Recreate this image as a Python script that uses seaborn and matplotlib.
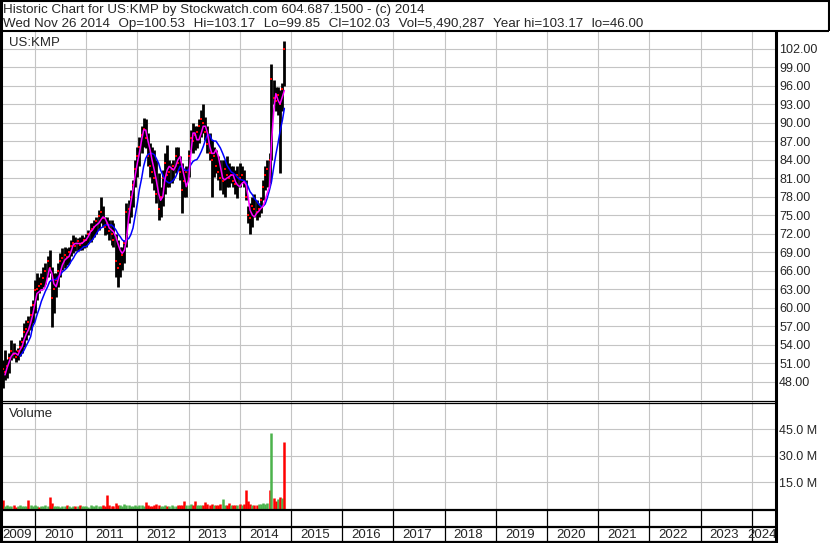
import numpy as np
import pandas as pd
import seaborn as sns
import matplotlib
matplotlib.use("Agg")
import matplotlib.pyplot as plt
import matplotlib.dates as mdates
from matplotlib.lines import Line2D

# semi-monthly bars (May 2009 - Nov 2014)
dates = pd.date_range("2009-05-01", periods=134, freq="SMS")

high = [48.3, 51.5, 53.1, 51.7, 52.6, 54.8, 54.2, 53.1, 53.4, 54.8,
        55.3, 57.5, 58.0, 58.6, 60.2, 61.2, 64.5, 65.6, 65.0, 65.6,
        66.6, 67.2, 68.3, 69.3, 66.6, 65.6, 65.6, 67.2, 68.8, 69.6,
        69.9, 69.6, 69.9, 71.0, 71.8, 71.5, 71.3, 71.5, 71.8, 71.5,
        72.0, 72.6, 73.7, 73.7, 74.2, 74.7, 75.8, 78.0, 76.4, 74.7,
        74.7, 74.2, 74.2, 73.7, 72.0, 71.0, 69.9, 69.9, 71.0, 76.9,
        77.4, 79.1, 80.7, 83.9, 86.1, 87.7, 89.4, 90.7, 90.5, 88.3,
        86.7, 86.1, 85.6, 83.9, 81.8, 79.6, 82.3, 85.0, 86.4, 83.9,
        83.4, 83.9, 86.1, 86.1, 84.5, 83.4, 82.3, 82.9, 85.6, 88.8,
        89.9, 89.4, 89.4, 90.5, 92.1, 93.0, 90.9, 89.4, 88.3, 87.2,
        86.1, 85.6, 84.5, 83.9, 83.9, 83.9, 84.5, 83.4, 82.9, 82.9,
        82.3, 82.9, 83.4, 82.9, 82.3, 80.7, 76.4, 76.9, 78.0, 78.5,
        77.4, 76.9, 78.0, 80.7, 82.9, 83.9, 85.0, 99.5, 96.9, 95.8,
        95.8, 95.2, 96.4, 103.2]

low = [46.1, 47.0, 48.3, 48.6, 49.4, 51.5, 51.8, 51.2, 51.5, 52.1,
       52.6, 53.7, 54.8, 55.6, 56.4, 57.5, 59.1, 61.2, 62.3, 62.9,
       63.4, 63.9, 65.0, 65.6, 56.9, 59.1, 61.8, 63.4, 65.0, 66.1,
       66.4, 66.9, 67.2, 68.3, 68.8, 69.1, 69.1, 69.3, 69.3, 69.6,
       69.9, 70.4, 70.7, 71.2, 71.5, 72.0, 72.6, 73.7, 73.1, 71.8,
       72.0, 71.0, 70.2, 69.9, 65.0, 63.4, 65.0, 66.1, 67.2, 69.9,
       73.7, 74.7, 76.3, 79.6, 81.2, 82.9, 85.0, 86.1, 85.8, 82.9,
       81.2, 80.2, 79.1, 76.9, 74.2, 74.7, 76.4, 78.5, 79.6, 79.6,
       80.2, 80.7, 81.8, 82.3, 80.7, 75.3, 77.9, 77.9, 81.2, 85.5,
       85.0, 85.6, 85.8, 86.7, 87.7, 88.3, 87.2, 85.0, 83.9, 78.0,
       81.2, 81.8, 80.7, 79.1, 78.5, 78.0, 79.6, 79.6, 80.2, 79.6,
       78.5, 77.7, 79.6, 80.4, 79.6, 77.4, 73.7, 72.0, 73.1, 74.7,
       74.2, 74.7, 75.3, 77.4, 79.1, 79.6, 80.2, 84.0, 93.0, 91.9,
       91.3, 81.8, 91.9, 96.0]

close = [47.5, 50.0, 49.5, 50.5, 51.8, 53.0, 52.5, 52.0, 53.0, 53.6,
         54.5, 56.0, 56.5, 57.6, 58.8, 60.4, 62.8, 63.0, 63.5, 63.8,
         64.8, 66.0, 67.5, 66.5, 61.5, 63.0, 64.5, 66.0, 67.5, 68.0,
         68.5, 68.2, 69.0, 70.0, 70.4, 70.0, 70.8, 70.2, 70.5, 70.9,
         71.0, 72.0, 72.5, 72.8, 73.0, 74.0, 74.8, 75.5, 74.5, 73.0,
         73.5, 72.5, 72.0, 71.0, 67.5, 66.5, 67.0, 68.5, 70.5, 75.5,
         76.0, 78.0, 79.8, 82.5, 84.5, 86.0, 88.0, 89.0, 87.5, 84.5,
         83.0, 82.0, 81.0, 78.5, 76.0, 78.0, 81.0, 83.5, 81.5, 82.0,
         82.5, 83.0, 84.5, 83.5, 82.0, 79.0, 80.5, 82.0, 84.5, 87.5,
         87.0, 88.0, 88.5, 89.5, 90.5, 90.0, 88.5, 86.5, 85.0, 84.0,
         84.5, 83.0, 82.0, 81.0, 80.5, 82.5, 81.5, 81.0, 81.5, 80.5,
         80.0, 81.5, 81.0, 81.5, 80.5, 78.0, 75.0, 74.5, 76.5, 76.0,
         75.5, 76.0, 77.5, 79.5, 81.5, 82.5, 84.0, 97.0, 94.0, 93.5,
         94.5, 93.0, 95.5, 102.0]

nan = np.nan
ma_fast = [nan, nan, 49.1, 50.2, 51.2, 52.1, 52.6, 52.6, 52.3, 53.1,
           53.7, 54.8, 55.8, 56.4, 57.5, 58.8, 60.7, 62.3, 62.6, 62.9,
           62.9, 63.4, 65.0, 66.4, 65.6, 63.9, 63.4, 64.5, 65.8, 66.9,
           67.7, 68.0, 68.3, 69.1, 70.2, 70.4, 70.4, 70.4, 70.4, 70.7,
           71.0, 71.5, 72.3, 72.6, 73.1, 73.4, 73.7, 74.2, 74.7, 74.5,
           73.7, 72.9, 72.6, 72.3, 71.5, 70.4, 69.3, 68.8, 69.3, 71.0,
           74.7, 76.9, 79.1, 81.2, 83.4, 85.0, 87.2, 88.8, 88.8, 87.2,
           85.6, 83.9, 82.3, 80.7, 78.5, 77.4, 78.0, 80.7, 82.3, 82.9,
           82.6, 82.3, 82.9, 83.9, 84.5, 82.9, 81.2, 79.6, 80.7, 84.5,
           88.3, 88.3, 87.2, 87.2, 88.3, 89.4, 89.4, 88.3, 86.1, 85.0,
           85.0, 85.6, 84.5, 82.9, 81.0, 80.7, 81.0, 81.2, 81.5, 81.5,
           80.4, 79.9, 79.6, 80.1, 80.4, 79.9, 78.0, 75.8, 75.0, 74.7,
           75.3, 75.6, 76.1, 76.4, 77.4, 78.5, 79.6, 86.7, 92.1, 94.7,
           93.6, 93.0, 94.2, 95.2]

ma_slow = [nan, nan, nan, nan, nan, nan, nan, nan, nan, 52.1,
           52.6, 53.1, 53.9, 54.5, 55.3, 56.9, 57.7, 58.8, 59.9, 61.0,
           61.8, 62.6, 63.4, 64.2, 64.5, 64.5, 64.6, 65.0, 65.3, 65.8,
           66.1, 66.4, 66.9, 67.5, 68.0, 68.6, 69.1, 69.3, 69.6, 69.9,
           69.9, 70.2, 70.7, 71.0, 71.5, 72.0, 72.6, 72.9, 73.1, 73.4,
           73.4, 73.4, 73.4, 73.1, 72.6, 72.0, 71.5, 71.0, 70.7, 71.0,
           71.2, 71.8, 72.9, 74.7, 76.9, 79.1, 81.0, 82.9, 84.2, 84.8,
           85.0, 85.0, 84.8, 84.2, 83.4, 82.3, 81.5, 80.7, 80.4, 80.2,
           80.4, 80.7, 81.2, 82.0, 82.9, 82.9, 82.4, 82.2, 82.3, 83.1,
           83.7, 83.9, 84.0, 84.5, 85.3, 86.1, 87.2, 88.0, 88.0, 87.2,
           87.0, 87.0, 86.4, 85.9, 85.0, 84.2, 83.1, 82.6, 82.0, 81.8,
           81.5, 81.1, 80.8, 80.7, 80.6, 80.3, 79.6, 78.8, 78.3, 77.7,
           77.3, 76.8, 76.4, 76.4, 76.8, 77.7, 79.1, 80.4, 82.9, 84.8,
           86.7, 88.5, 90.4, 92.3]

# volume in millions, and up(1)/down(0) colouring
volume = [2.0, 5.1, 1.7, 2.2, 1.5, 1.8, 2.3, 1.4, 1.7, 2.0,
          1.5, 1.8, 1.7, 5.1, 2.0, 1.5, 2.2, 1.7, 1.4, 1.8,
          1.7, 2.0, 1.5, 6.9, 3.4, 1.7, 1.5, 1.8, 1.4, 1.7,
          1.5, 2.0, 1.7, 1.4, 1.8, 1.5, 1.7, 2.0, 1.5, 1.7,
          1.8, 1.4, 2.2, 1.7, 1.5, 2.0, 1.7, 1.8, 2.3, 1.7,
          7.9, 2.0, 1.7, 1.8, 3.4, 2.5, 2.2, 1.7, 2.7, 2.0,
          2.3, 1.7, 1.8, 2.2, 1.7, 2.0, 2.5, 1.5, 4.1, 2.2,
          1.8, 1.7, 2.0, 2.7, 2.2, 1.7, 1.8, 2.3, 1.7, 1.5,
          2.0, 1.7, 1.8, 2.2, 2.5, 2.0, 4.5, 2.3, 2.0, 2.7,
          2.2, 4.5, 2.5, 2.0, 2.3, 2.2, 4.1, 2.7, 2.2, 3.0,
          2.3, 2.5, 2.0, 2.7, 5.6, 2.5, 2.2, 3.2, 2.3, 2.0,
          2.5, 2.2, 2.7, 2.3, 3.0, 10.7, 4.5, 2.7, 2.5, 2.3,
          2.5, 3.0, 2.7, 3.4, 2.8, 3.2, 10.7, 42.6, 6.0, 4.5,
          5.6, 6.5, 6.0, 37.9]

up = [0, 0, 1, 1, 1, 1, 0, 0, 1, 1,
      1, 1, 1, 0, 1, 1, 1, 1, 0, 1,
      1, 1, 1, 0, 0, 1, 1, 1, 1, 1,
      1, 0, 1, 1, 1, 0, 1, 0, 1, 1,
      1, 1, 1, 1, 1, 1, 1, 1, 0, 0,
      0, 0, 0, 0, 0, 0, 1, 1, 1, 1,
      1, 1, 1, 1, 1, 1, 1, 1, 0, 0,
      0, 0, 0, 0, 0, 1, 1, 1, 0, 1,
      1, 1, 1, 0, 0, 0, 0, 1, 1, 1,
      0, 0, 1, 1, 1, 0, 0, 0, 0, 0,
      1, 0, 0, 0, 1, 1, 0, 0, 1, 0,
      0, 1, 0, 1, 0, 0, 0, 0, 1, 0,
      0, 1, 1, 1, 1, 1, 0, 1, 0, 0,
      1, 0, 1, 0]

price_ticks = list(range(48, 103, 3))
vol_ticks = [15, 30, 45]
years = list(range(2009, 2025))

title1 = "Historic Chart for US:KMP by Stockwatch.com 604.687.1500 - (c) 2014"
gap = "  \u200a"
title2 = gap.join(["Wed Nov 26 2014", "Op=100.53", "Hi=103.17", "Lo=99.85",
                   "Cl=102.03", "Vol=5,490,287", "Year hi=103.17", "lo=46.00"])

# ---------------------------------------------------------------------------
W, H = 830, 543
sns.set_style("white")
plt.rcParams['font.family'] = ['Liberation Sans', 'DejaVu Sans']

fig = plt.figure(figsize=(W / 100, H / 100), dpi=100)


def box(x0, y0, x1, y1):
    # pixel box (top-left origin) -> figure rect
    return [x0 / W, 1 - y1 / H, (x1 - x0) / W, (y1 - y0) / H]


def fline(xs, ys, lw=1.0):
    fig.add_artist(Line2D([x / W for x in xs], [1 - y / H for y in ys],
                          transform=fig.transFigure, color="black", lw=lw,
                          solid_capstyle="butt"))


ax_p = fig.add_axes(box(2, 31, 775, 400))
ax_v = fig.add_axes(box(2, 402, 775, 509))
ax_x = fig.add_axes(box(2, 509, 775, 542))

t0 = mdates.date2num(pd.Timestamp("2010-01-01"))
px_year = 51.2
xlim = (t0 - 33 / px_year * 365.25, t0 + 740 / px_year * 365.25)

grid_kw = dict(color="#c4c4c4", lw=0.8)
for ax in (ax_p, ax_v, ax_x):
    ax.set_xlim(*xlim)
    for s in ax.spines.values():
        s.set_visible(False)
    ax.xaxis.set_major_locator(mdates.YearLocator())
    ax.tick_params(axis="x", length=0, labelbottom=False)

# price panel
ax_p.vlines(dates, low, high, color="black", lw=2.0, zorder=2)
ax_p.scatter(dates, close, s=3.5, marker="s", color="red", linewidths=0, zorder=3)
sns.lineplot(x=dates, y=ma_slow, color="#0000ff", lw=1.1, ax=ax_p, zorder=4)
sns.lineplot(x=dates, y=ma_fast, color="#ff00ff", lw=1.1, ax=ax_p, zorder=5)
ax_p.set_ylim(45.03, 104.84)
ax_p.set_yticks(price_ticks)
ax_p.set_yticklabels([f"{v:.2f}" for v in price_ticks])
ax_p.yaxis.tick_right()
ax_p.tick_params(axis="y", length=0, pad=3, labelsize=9)
ax_p.grid(True, **grid_kw)
ax_p.set_axisbelow(True)
ax_p.set_xlabel("")
ax_p.set_ylabel("")
ax_p.text(7 / 773, 1 - 15 / 369, "US:KMP", transform=ax_p.transAxes,
          fontsize=9.5, va="baseline", ha="left")

# volume panel
colors = ["#4cb34c" if u else "#ff0000" for u in up]
ax_v.vlines(dates, 0, volume, colors=colors, lw=1.8, zorder=2)
ax_v.set_ylim(0, 60.2)
ax_v.set_yticks(vol_ticks)
ax_v.set_yticklabels([f"{v:.1f} M" for v in vol_ticks])
ax_v.yaxis.tick_right()
ax_v.tick_params(axis="y", length=0, pad=3, labelsize=9)
ax_v.grid(True, **grid_kw)
ax_v.set_axisbelow(True)
ax_v.text(7 / 773, 1 - 15 / 107, "Volume", transform=ax_v.transAxes,
          fontsize=9.5, va="baseline", ha="left")

# date strip
ax_x.set_ylim(0, 1)
ax_x.set_yticks([])
ax_x.grid(False)
for yr in years[1:]:
    ax_x.axvline(mdates.date2num(pd.Timestamp(f"{yr}-01-01")), color="black", lw=0.9)
ax_x.axhline(15 / 33, color="black", lw=1.6)
for yr in years:
    a = max(mdates.date2num(pd.Timestamp(f"{yr}-01-01")), xlim[0])
    b = min(mdates.date2num(pd.Timestamp(f"{yr + 1}-01-01")), xlim[1])
    ax_x.text((a + b) / 2 - 12, 7 / 33, str(yr), fontsize=9.5, ha="center", va="center")

# frame lines
fline([0, 829], [0.5, 0.5], lw=1.5)
fline([0.5, 0.5], [0, 543], lw=2.2)
fline([828.5, 828.5], [0, 31], lw=1.5)
fline([0, 829], [30.5, 30.5], lw=1.5)
fline([775.5, 775.5], [30, 543], lw=2.2)
fline([0, 776], [400.5, 400.5], lw=0.9)
fline([0, 776], [402.5, 402.5], lw=0.9)
fline([0, 776], [509.5, 509.5], lw=1.6)
fline([0, 776], [542, 542], lw=1.6)

fig.text(3 / W, 1 - 13 / H, title1, fontsize=9.6, va="baseline", ha="left")
fig.text(3 / W, 1 - 27 / H, title2, fontsize=9.6, va="baseline", ha="left")

fig.savefig("out.png", dpi=100, facecolor="white")
